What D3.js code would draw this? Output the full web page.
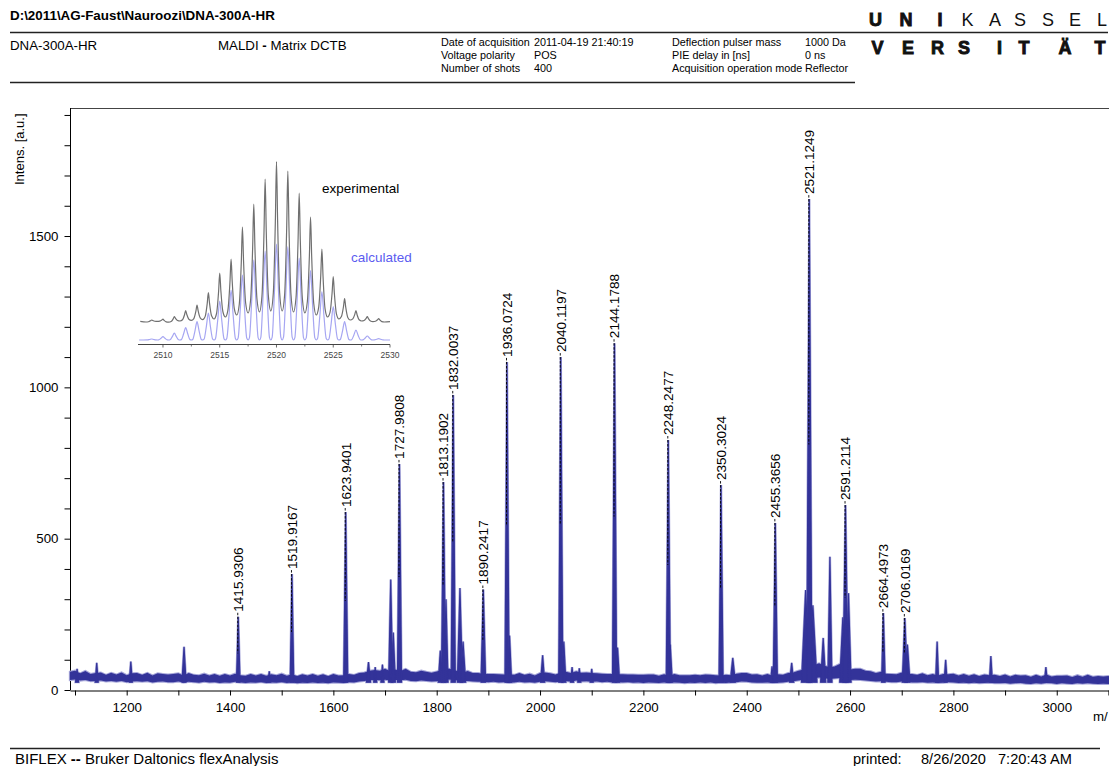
<!DOCTYPE html>
<html>
<head>
<meta charset="utf-8">
<script src="https://cdn.jsdelivr.net/npm/d3@7"></script>
<style>
  body { margin: 0; background: #fff; }
  svg { display: block; font-family: "Liberation Sans", Arial, sans-serif; }
</style>
</head>
<body>
<svg id="chart" width="1109" height="766"></svg>
<script>
// ---------------- spectrum data (m/z, intensity [a.u.]) ----------------
// Annotated peaks: [m/z, intensity, half base width in m/z]
const labeledPeaks = [
  [1415.9306, 242, 3.5],
  [1519.9167, 383, 3.5],
  [1623.9401, 588, 4],
  [1727.9808, 747, 4],
  [1813.1902, 687, 4],
  [1832.0037, 975, 4],
  [1890.2417, 332, 4.5],
  [1936.0724, 1084, 4],
  [2040.1197, 1100, 4],
  [2144.1788, 1146, 4],
  [2248.2477, 826, 4],
  [2350.3024, 677, 4],
  [2455.3656, 552, 4],
  [2521.1249, 1622, 5],
  [2591.2114, 611, 5],
  [2664.4973, 254, 3.5],
  [2706.0169, 238, 5]
];
// Unannotated signals: [m/z, intensity, half base width in m/z]
const otherPeaks = [
  [1104, 70, 3], [1142, 90, 3], [1208, 94, 3], [1311, 143, 4], [1476, 62, 3],
  [1668, 92, 4], [1681, 76, 3], [1695, 84, 3], [1711, 365, 4], [1716, 190, 4],
  [1807, 130, 4], [1818, 300, 4], [1845, 337, 5], [1851, 160, 5], [1941, 180, 4],
  [2005, 115, 4], [2046, 160, 4], [2062, 76, 3], [2076, 72, 3], [2100, 70, 3],
  [2150, 140, 4], [2252, 150, 4], [2373, 106, 5], [2449, 78, 3], [2487, 90, 4],
  [2514, 330, 8], [2528, 280, 8], [2548, 172, 5], [2561, 440, 4], [2586, 240, 6],
  [2597, 320, 5], [2711, 150, 5], [2768.5, 160, 3], [2785, 100, 3], [2872.5, 112, 3],
  [2979, 76, 3]
];
// Baseline noise envelope, sampled every noiseStep m/z from noiseStart
const noiseStart = 1090, noiseStep = 10;
const noiseHi = [
  60,64,55,63,53,56,58,50,57,51,58,49,55,56,50,57,48,55,53,51,
  53,55,48,56,50,49,54,48,53,47,53,48,54,49,47,53,48,53,47,52,
  49,54,47,52,46,52,48,53,47,52,46,53,48,49,53,50,56,58,64,66,
  64,70,62,68,63,70,60,59,64,60,57,61,66,72,68,63,58,63,56,56,
  54,53,53,52,51,52,50,56,50,54,48,56,58,55,51,58,60,56,62,57,
  58,56,55,54,53,53,52,52,51,51,50,50,51,51,47,52,48,53,49,49,
  49,50,49,51,50,49,48,50,49,54,56,56,51,52,48,53,47,52,50,56,
  58,64,68,78,82,88,80,76,78,86,72,68,70,70,64,62,56,60,54,53,
  52,58,54,53,50,55,49,53,48,53,52,54,48,53,47,52,46,51,49,50,
  46,51,45,50,48,49,44,50,45,51,45,47,47,48,43,49,44,50,44,46,
  45,46,44
];
const noiseLo = [
  33,35,31,33,29,30,31,28,30,27,30,26,28,29,27,29,25,27,28,26,
  26,28,25,27,26,24,27,25,26,23,25,24,27,25,23,25,24,26,23,25,
  24,26,23,25,22,24,23,25,23,24,22,25,24,23,26,25,28,30,32,33,
  32,34,31,33,32,34,30,29,31,30,28,29,33,35,34,31,29,30,28,27,
  27,26,27,25,26,24,25,27,25,26,24,27,29,27,26,28,30,27,31,28,
  29,27,28,26,27,25,26,25,26,24,25,23,25,24,23,25,23,25,24,22,
  24,23,25,23,25,22,24,23,25,26,28,27,25,24,24,25,23,24,25,27,
  29,31,34,37,39,41,39,36,38,40,35,33,34,33,31,30,28,29,27,26,
  26,28,27,25,25,26,24,25,23,24,26,25,23,24,22,24,22,23,24,22,
  22,23,21,22,23,21,20,22,21,23,22,20,22,21,20,22,21,22,21,20,
  21,20,21
];
const peakFoot = 26; // intensity where peak flanks meet the noise band

// Axis ticks and labels
const xTicks = [1100,1200,1300,1400,1500,1600,1700,1800,1900,2000,2100,2200,2300,2400,2500,2600,2700,2800,2900,3000,3100];
const xLabels = [1200,1400,1600,1800,2000,2200,2400,2600,2800,3000];
const yTicks = [0,100,200,300,400,500,600,700,800,900,1000,1100,1200,1300,1400,1500,1600,1700,1800,1900];
const yLabels = [0,500,1000,1500];

// ---------------- isotope pattern inset ----------------
const insetMz = [2509,2510,2511,2512,2513,2514,2515,2516,2517,2518,2519,2520,2521,2522,2523,2524,2525,2526,2527,2528,2529];
const insetExpTop = [12,12.4,13.7,16.7,19.5,25.7,35.4,42.4,58.4,69.9,82.5,91.2,86.5,75.4,63.4,47.5,33.7,22.7,16.7,13.7,12.7];
// experimental trace between isotopes, at m/z 2508.5 ... 2529.5
const insetExpValley = [11.0,11.3,10.9,11.5,11.8,12.2,12.5,13.5,14.5,15.5,16,16.5,16.5,16,15.5,14.5,13.5,12.5,12,11.5,11.2,11.0];
const insetCalcTop = [2.5,3.7,5.4,8.2,11.2,15.4,21.5,27,34.5,42,46.5,50,48.7,42.9,36.7,26.2,18.7,11.2,7,4,2.7];
const insetCalcBase = 2;
const insetTicks = [2510,2515,2520,2525,2530];
const insetMinorTicks = [2512.5,2517.5,2522.5,2527.5];

// ---------------- drawing ----------------
const svg = d3.select("#chart");
const BLUE = "#333399", HALO = "#a8a8da";

// header
const hdr = svg.append("g").attr("fill", "#000");
hdr.append("text").attr("x", 10).attr("y", 20).attr("font-size", 13.4).attr("font-weight", "bold")
  .text("D:\\2011\\AG-Faust\\Nauroozi\\DNA-300A-HR");
hdr.append("line").attr("x1", 10).attr("x2", 1108).attr("y1", 32.5).attr("y2", 32.5)
  .attr("stroke", "#222").attr("stroke-width", 1.5);
hdr.append("line").attr("x1", 10).attr("x2", 855).attr("y1", 82.5).attr("y2", 82.5)
  .attr("stroke", "#222").attr("stroke-width", 1.5);
hdr.append("text").attr("x", 10).attr("y", 50).attr("font-size", 13.3).text("DNA-300A-HR");
const maldi = hdr.append("text").attr("x", 218).attr("y", 50).attr("font-size", 13.3);
maldi.append("tspan").text("MALDI ");
maldi.append("tspan").attr("font-weight", "bold").text("-");
maldi.append("tspan").text(" Matrix DCTB");

const infoRows = [
  ["Date of acquisition", "2011-04-19 21:40:19", "Deflection pulser mass", "1000 Da"],
  ["Voltage polarity", "POS", "PIE delay in [ns]", "0 ns"],
  ["Number of shots", "400", "Acquisition operation mode", "Reflector"]
];
infoRows.forEach((r, i) => {
  const yy = 46 + i * 13;
  [[441, r[0]], [534, r[1]], [672, r[2]], [805, r[3]]].forEach(([xx, t]) =>
    hdr.append("text").attr("x", xx).attr("y", yy).attr("font-size", 10.8).text(t));
});

// university logo
const logo = svg.append("g").attr("fill", "#111").attr("font-size", 18).attr("text-anchor", "middle");
const row1 = [["U",875.5,true],["N",906,true],["I",940,true],["K",967.5,false],["A",995,false],["S",1020,false],["S",1048,false],["E",1075,false],["L",1102,false]];
row1.forEach(([c, xx, b]) => logo.append("text").attr("x", xx).attr("y", 25.5)
  .attr("font-weight", b ? "bold" : "normal")
  .attr("stroke", b ? "#111" : "none").attr("stroke-width", b ? 0.9 : 0).text(c));
const row2 = [["V",877.5],["E",908],["R",937.5],["S",964],["I",999.5],["T",1024],["\u00C4",1065],["T",1100]];
row2.forEach(([c, xx]) => logo.append("text").attr("x", xx).attr("y", 53.5).attr("font-weight", "bold")
  .attr("stroke", "#111").attr("stroke-width", 0.9).text(c));

// footer
svg.append("line").attr("x1", 10).attr("x2", 1100).attr("y1", 748.5).attr("y2", 748.5)
  .attr("stroke", "#222").attr("stroke-width", 1.5);
const foot = svg.append("text").attr("x", 15).attr("y", 764).attr("font-size", 15);
foot.append("tspan").text("BIFLEX ");
foot.append("tspan").attr("font-weight", "bold").text("--");
foot.append("tspan").text(" Bruker Daltonics flexAnalysis");
[[853, "printed:"], [921, "8/26/2020"], [998, "7:20:43 AM"]].forEach(([xx, t]) =>
  svg.append("text").attr("x", xx).attr("y", 764).attr("font-size", 14.6).text(t));

// scales
const x = d3.scaleLinear().domain([1090.3, 3110]).range([70, 70 + (3110 - 1090.3) * 0.5167]);
const y = d3.scaleLinear().domain([0, 1923]).range([690, 108]);

// frame
svg.append("line").attr("x1", 70).attr("x2", 1109).attr("y1", 108.5).attr("y2", 108.5)
  .attr("stroke", "#444").attr("stroke-width", 1);

// y axis
const yAxis = svg.append("g").attr("transform", "translate(70.5,0)")
  .call(d3.axisLeft(y).tickValues(yTicks).tickSize(6).tickPadding(6).tickSizeOuter(0)
    .tickFormat(d => yLabels.includes(d) ? d : ""));
yAxis.select(".domain").attr("d", "M0,108V690").attr("stroke", "#000");
yAxis.selectAll("text").attr("font-size", 13.3).attr("fill", "#000").attr("font-family", "Liberation Sans, Arial, sans-serif");
svg.append("text").attr("transform", "translate(24,185) rotate(-90)")
  .attr("font-size", 13).text("Intens. [a.u.]");

// x axis
const xAxis = svg.append("g").attr("transform", "translate(0,690.5)")
  .call(d3.axisBottom(x).tickValues(xTicks).tickSize(5).tickPadding(7).tickSizeOuter(0)
    .tickFormat(d => xLabels.includes(d) ? d : ""));
xAxis.select(".domain").attr("stroke", "#000");
xAxis.selectAll("text").attr("font-size", 13.3).attr("fill", "#000").attr("font-family", "Liberation Sans, Arial, sans-serif");
svg.append("text").attr("x", 1093).attr("y", 721).attr("font-size", 13.3).text("m/");

// spectrum
const spec = svg.append("g");
const noiseArea = d3.area()
  .x((d, i) => x(noiseStart + i * noiseStep))
  .y0((d, i) => y(noiseLo[i]))
  .y1(d => y(d));
const allPeaks = otherPeaks.concat(labeledPeaks);
const peakLine = d3.line().x(d => x(d[0])).y(d => y(d[1]));
const peakPts = p => [[p[0] - p[2], peakFoot], [p[0], p[1]], [p[0] + p[2], peakFoot]];

// soft outer edge
spec.append("path").attr("d", noiseArea(noiseHi)).attr("fill", HALO)
  .attr("stroke", HALO).attr("stroke-width", 2);
spec.selectAll(".ph").data(allPeaks).join("path").attr("class", "ph")
  .attr("d", p => peakLine(peakPts(p)) + "Z")
  .attr("fill", HALO).attr("stroke", HALO).attr("stroke-width", 2.4).attr("stroke-linejoin", "miter");
// core trace
spec.append("path").attr("d", noiseArea(noiseHi)).attr("fill", BLUE)
  .attr("stroke", "none");
spec.selectAll(".pc").data(allPeaks).join("path").attr("class", "pc")
  .attr("d", p => peakLine(peakPts(p)) + "Z")
  .attr("fill", BLUE).attr("stroke", BLUE).attr("stroke-width", 1.1);

// peak annotations
const ann = svg.append("g");
ann.selectAll("line").data(labeledPeaks).join("line")
  .attr("x1", d => x(d[0]) - 0.5).attr("x2", d => x(d[0]) - 0.5)
  .attr("y1", d => y(d[1]) - 4).attr("y2", d => y(d[1] / 2))
  .attr("stroke", "#000").attr("stroke-width", 0.9).attr("stroke-dasharray", "2.5,1.5");
ann.selectAll("text").data(labeledPeaks).join("text")
  .attr("transform", d => `translate(${x(d[0])},${y(d[1]) - 5}) rotate(-90)`)
  .attr("dy", "0.36em").attr("font-size", 13.6).attr("fill", "#000")
  .text(d => d[0].toFixed(4));

// isotope pattern inset
const ix = d3.scaleLinear().domain([2507.8, 2530]).range([138, 390]);
const iy = d3.scaleLinear().domain([0, 100]).range([344, 144]);
const inset = svg.append("g");

const calcPts = [[2507.9, insetCalcBase]];
insetMz.forEach((m, i) => {
  const t = insetCalcTop[i], h = t - insetCalcBase;
  calcPts.push([m - 0.38, insetCalcBase + 0.03 * h], [m - 0.18, insetCalcBase + 0.5 * h], [m, t],
               [m + 0.18, insetCalcBase + 0.5 * h], [m + 0.38, insetCalcBase + 0.03 * h], [m + 0.5, insetCalcBase]);
});
calcPts.push([2530, insetCalcBase]);
const expPts = [[2508, insetExpValley[0] + 0.3], [2508.5, insetExpValley[0]]];
insetMz.forEach((m, i) => {
  const vL = insetExpValley[i], vR = insetExpValley[i + 1], t = insetExpTop[i];
  expPts.push([m - 0.28, vL + 0.12 * (t - vL)], [m - 0.1, vL + 0.6 * (t - vL)], [m, t],
              [m + 0.1, vR + 0.6 * (t - vR)], [m + 0.28, vR + 0.12 * (t - vR)], [m + 0.5, vR]);
});
expPts.push([2530, insetExpValley[insetExpValley.length - 1] + 0.2]);

const iline = d3.line().x(d => ix(d[0])).y(d => iy(d[1])).curve(d3.curveMonotoneX);
inset.append("path").attr("d", iline(calcPts)).attr("fill", "none")
  .attr("stroke", "#a6a6f2").attr("stroke-width", 1.2);
inset.append("path").attr("d", iline(expPts)).attr("fill", "none")
  .attr("stroke", "#707070").attr("stroke-width", 1.2);
inset.append("line").attr("x1", 138).attr("x2", 390).attr("y1", 344.5).attr("y2", 344.5)
  .attr("stroke", "#444").attr("stroke-width", 1);
inset.selectAll(".it").data(insetTicks).join("line").attr("class", "it")
  .attr("x1", d => ix(d)).attr("x2", d => ix(d)).attr("y1", 344.5).attr("y2", 347.5)
  .attr("stroke", "#444").attr("stroke-width", 0.8);
inset.selectAll(".im").data(insetMinorTicks).join("line").attr("class", "im")
  .attr("x1", d => ix(d)).attr("x2", d => ix(d)).attr("y1", 344.5).attr("y2", 346.5)
  .attr("stroke", "#555").attr("stroke-width", 0.8);
inset.selectAll(".il").data(insetTicks).join("text").attr("class", "il")
  .attr("x", d => ix(d)).attr("y", 358).attr("text-anchor", "middle")
  .attr("font-size", 8.5).attr("fill", "#444").text(d => d);
inset.append("text").attr("x", 322).attr("y", 193).attr("font-size", 13.5).attr("fill", "#000").text("experimental");
inset.append("text").attr("x", 351).attr("y", 262).attr("font-size", 13.5).attr("fill", "#5b5bf0").text("calculated");
</script>
</body>
</html>
